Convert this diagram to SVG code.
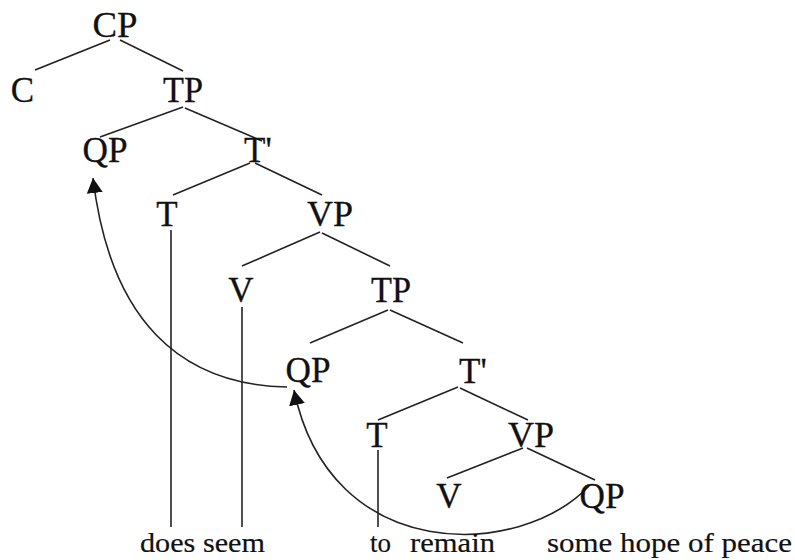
<svg xmlns="http://www.w3.org/2000/svg" width="795" height="560" viewBox="0 0 795 560">
<style>
text{font-family:'Liberation Serif','DejaVu Serif',serif;fill:#111}
.lbl{font-size:35px;stroke:#111;stroke-width:0.3;text-anchor:middle}
.lbs{font-size:35px;stroke:#111;stroke-width:0.3}
.word{font-size:28px;stroke:#111;stroke-width:0.2}
.br{stroke:#222;stroke-width:1.6;fill:none}
.arc{stroke:#222;stroke-width:1.6;fill:none;marker-end:url(#ah)}
</style>
<defs>
<marker id="ah" markerUnits="userSpaceOnUse" markerWidth="18" markerHeight="18" refX="15" refY="8" orient="auto">
<path d="M0,0 L15,8 L0,16 Z" fill="#111"/>
</marker>
</defs>
<rect width="795" height="560" fill="#fff"/>
<g id="connectors">
<line class="br" x1="110" y1="40" x2="35" y2="70"/>
<line class="br" x1="120" y1="40" x2="183" y2="71"/>
<line class="br" x1="183" y1="107" x2="100" y2="137"/>
<line class="br" x1="185" y1="108" x2="262" y2="141"/>
<line class="br" x1="250" y1="163" x2="173" y2="195"/>
<line class="br" x1="255" y1="163" x2="322" y2="195"/>
<line class="br" x1="320" y1="232" x2="242" y2="266"/>
<line class="br" x1="322" y1="233" x2="390" y2="266"/>
<line class="br" x1="388" y1="310" x2="310" y2="343"/>
<line class="br" x1="390" y1="310" x2="463" y2="343"/>
<line class="br" x1="458" y1="387" x2="378" y2="420"/>
<line class="br" x1="460" y1="388" x2="528" y2="420"/>
<line class="br" x1="523" y1="448" x2="447" y2="478"/>
<line class="br" x1="527" y1="448" x2="595" y2="480"/>
<line class="br" x1="171" y1="230" x2="171" y2="527"/>
<line class="br" x1="242" y1="307" x2="242" y2="527"/>
<line class="br" x1="378" y1="450" x2="378" y2="527"/>
<path class="arc" d="M287,387 C180,385 110,320 93,178"/>
<path class="arc" d="M590,485 C520,560 330,565 294,390"/>
</g>
<g id="CP"><text class="lbl" x="115" y="37" textLength="45" lengthAdjust="spacingAndGlyphs">CP</text></g>
<g id="C"><text class="lbl" x="22.5" y="102">C</text></g>
<g id="TP1"><text class="lbl" x="183" y="102" textLength="40" lengthAdjust="spacingAndGlyphs">TP</text></g>
<g id="QP1"><text class="lbl" x="105" y="162" textLength="45" lengthAdjust="spacingAndGlyphs">QP</text></g>
<g id="Tbar1"><text class="lbs" x="244" y="162">T'</text></g>
<g id="T1"><text class="lbl" x="167" y="226">T</text></g>
<g id="VP1"><text class="lbl" x="330" y="226" textLength="46" lengthAdjust="spacingAndGlyphs">VP</text></g>
<g id="V1"><text class="lbl" x="241" y="302">V</text></g>
<g id="TP2"><text class="lbl" x="391" y="302" textLength="40" lengthAdjust="spacingAndGlyphs">TP</text></g>
<g id="QP2"><text class="lbl" x="308" y="382" textLength="45" lengthAdjust="spacingAndGlyphs">QP</text></g>
<g id="Tbar2"><text class="lbs" x="459" y="383">T'</text></g>
<g id="T2"><text class="lbl" x="377" y="447">T</text></g>
<g id="VP2"><text class="lbl" x="531" y="447" textLength="46" lengthAdjust="spacingAndGlyphs">VP</text></g>
<g id="V2"><text class="lbl" x="449" y="508">V</text></g>
<g id="QP3"><text class="lbl" x="602" y="508" textLength="45" lengthAdjust="spacingAndGlyphs">QP</text></g>
<g id="words">
<text class="word" x="140" y="552" textLength="125" lengthAdjust="spacingAndGlyphs">does seem</text>
<text class="word" x="370" y="552" textLength="21" lengthAdjust="spacingAndGlyphs">to</text>
<text class="word" x="410" y="552" textLength="85" lengthAdjust="spacingAndGlyphs">remain</text>
<text class="word" x="547" y="552" textLength="245" lengthAdjust="spacingAndGlyphs">some hope of peace</text>
</g>
</svg>
